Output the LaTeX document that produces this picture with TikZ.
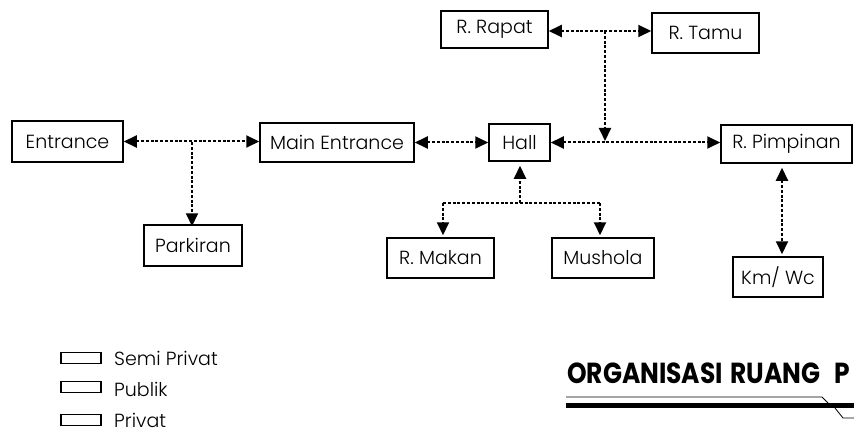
\documentclass[tikz,border=0pt]{standalone}
\usepackage{fontspec}
\setmainfont{Poppins}[UprightFont=* Light,BoldFont=* Bold]
\newfontfamily\titlefont{Poppins}[UprightFont=* Bold]
\usetikzlibrary{arrows.meta}
\begin{document}
\begin{tikzpicture}[x=1pt,y=-1pt,
  room/.style={draw,line width=1.5pt,inner sep=0pt,font=\fontsize{19}{21}\selectfont},
  link/.style={line width=2pt,dash pattern=on 3pt off 1.8pt},
  tip/.style={-{Triangle[length=13pt,width=12pt]}},
  both/.style={{Triangle[length=13pt,width=12pt]}-{Triangle[length=13pt,width=12pt]}},
  keybox/.style={draw,line width=1.3pt,minimum width=40pt,minimum height=11pt,inner sep=0pt},
  keytext/.style={anchor=west,inner sep=0pt,font=\fontsize{19}{21}\selectfont}]
\useasboundingbox (0,0) rectangle (854,441);
\clip (0,0) rectangle (854,441);

% rooms
\node[room,minimum width=111pt,minimum height=41pt] (ent)  at (67.5,141.5) {Entrance};
\node[room,minimum width=154pt,minimum height=39pt] (main) at (337,142.5)  {Main Entrance};
\node[room,minimum width=61pt,minimum height=37pt]  (hall) at (519.5,142.5) {Hall};
\node[room,minimum width=131pt,minimum height=38pt] (pim)  at (786.5,144)  {R. Pimpinan};
\node[room,minimum width=107pt,minimum height=37pt] (rap)  at (494.5,29.5) {R. Rapat};
\node[room,minimum width=107pt,minimum height=40pt] (tamu) at (705.5,33)   {R. Tamu};
\node[room,minimum width=98pt,minimum height=41pt]  (park) at (193,245.5)  {Parkiran};
\node[room,minimum width=107pt,minimum height=40pt] (mak)  at (440.5,258)  {R. Makan};
\node[room,minimum width=102pt,minimum height=40pt] (mus)  at (603,258)    {Mushola};
\node[room,minimum width=90pt,minimum height=40pt]  (km)   at (778,277)    {Km/ Wc};

% junction points of the branching links
\coordinate (jp) at (192,142);
\coordinate (jt) at (605,31);
\coordinate (jh) at (605,141);
\coordinate (jb) at (520,203);
\coordinate (jl) at (443,203);
\coordinate (jr) at (600,203);
\coordinate (jk) at (782,0);

% links
\draw[link,both] (ent.east) -- (main.west |- ent.east);
\draw[link,tip] (jp) -- ([yshift=-2pt]jp |- park.north);
\draw[link,both] (main.east) -- (hall.west |- main.east);
\draw[link,both] (hall.east) -- (pim.west |- hall.east);
\draw[link,both] (rap.east |- jt) -- (tamu.west |- jt);
\draw[link,tip] (jt) -- (jh);
\draw[link,tip,shorten >=4pt] (jb) -- (jb |- hall.south);
\draw[link] (jl) -- (jr);
\draw[link,tip,shorten >=2pt] (jl) -- (jl |- mak.north);
\draw[link,tip,shorten >=2pt] (jr) -- (jr |- mus.north);
\draw[link,both,shorten <=4pt,shorten >=2pt] (jk |- pim.south) -- (jk |- km.north);

% key
\node[keybox] (k1) at (81,358) {};
\node[keybox] (k2) at (81,387) {};
\node[keybox] (k3) at (81,420) {};
\node[keytext] (t1) at (114,358) {Semi Privat};
\node[keytext] (t2) at (114,389) {Publik};
\node[keytext] (t3) at (114,420) {Privat};

% title with its underline
\node[anchor=south west,inner sep=0pt] (title) at (567,384)
  {\scalebox{0.86}[1]{\titlefont\fontsize{29}{31}\selectfont ORGANISASI\hspace{9pt}RUANG\hspace{16pt}P}};
\draw[line width=5pt] (566,405) -- (854,405);
\draw[line width=0.8pt] (566,397) -- (822,397) -- (829,404);
\draw[line width=0.8pt] (835,408) -- (843,418) -- (854,418);
\end{tikzpicture}
\end{document}
